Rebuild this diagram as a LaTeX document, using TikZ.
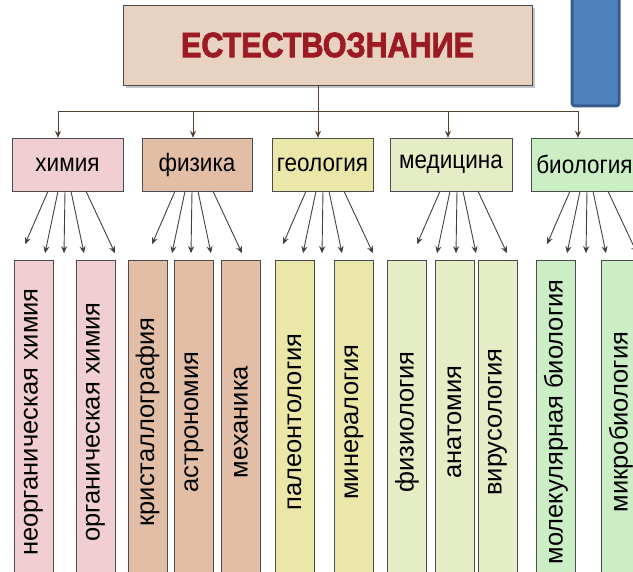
\documentclass[tikz,border=0pt]{standalone}
\usepackage{fontspec}
\setmainfont{Liberation Sans}
\newfontfamily\titlefont[FakeBold=2.5]{Liberation Sans}
\usetikzlibrary{arrows.meta,shadows}

\definecolor{maincol}{RGB}{232,210,194}
\definecolor{titlered}{RGB}{155,26,36}
\definecolor{khimcol}{RGB}{240,206,209}
\definecolor{fizcol}{RGB}{227,190,167}
\definecolor{geocol}{RGB}{234,231,168}
\definecolor{medcol}{RGB}{229,237,199}
\definecolor{biocol}{RGB}{203,238,197}
\definecolor{bluefill}{RGB}{79,129,189}
\definecolor{blueline}{RGB}{56,93,138}
\definecolor{buscol}{RGB}{85,65,50}

\begin{document}
\begin{tikzpicture}[
    x=1pt, y=-1pt,
    >=Stealth,
    title/.style={draw=black!70, fill=maincol, minimum width=409pt, minimum height=80pt,
        font=\fontsize{30.5}{36}\titlefont\bfseries, text=titlered,
        drop shadow={shadow xshift=3pt, shadow yshift=-3pt, fill=black!45}},
    cat/.style={draw=black!70, minimum height=53pt, inner sep=0pt,
        font=\fontsize{22.5}{26}\selectfont},
    leaf/.style={draw=black!70, rotate=90, minimum width=324pt, minimum height=39pt,
        inner sep=0pt, font=\fontsize{25.5}{30}\selectfont},
    bus/.style={buscol, line width=0.9pt},
    fan/.style={black!75, line width=0.9pt, -{Stealth[length=7pt, width=6pt]}}
]
\useasboundingbox (0,0) rectangle (633,572);
\clip (0,0) rectangle (633,572);

\node[draw=blueline, fill=bluefill, line width=3pt, rounded corners=3pt,
    minimum width=47pt, minimum height=116pt] (blue) at (595.5,48) {};

\node[title] (main) at (327.5,45) {\scalebox{1}[1.15]{ЕСТЕСТВОЗНАНИЕ}};

\node[cat, fill=khimcol, minimum width=111pt] (khim) at (67.5,164.5) {\scalebox{1}[1.12]{химия}};
\node[cat, fill=fizcol, minimum width=110pt] (fiz) at (197,164.5) {\scalebox{1}[1.12]{физика}};
\node[cat, fill=geocol, minimum width=101pt] (geo) at (322.5,164.5) {\scalebox{1}[1.12]{геология}};
\node[cat, fill=medcol, minimum width=122pt] (med) at (451,164.5) {\scalebox{1}[1.12]{медицина}};
\node[cat, fill=biocol, minimum width=107pt] (bio) at (584.5,164.5) {\scalebox{1}[1.12]{биология}};

\coordinate (a1) at (58,111);
\coordinate (a2) at (193,111);
\coordinate (bus) at (318,111);
\coordinate (a4) at (448,111);
\coordinate (a5) at (578,111);
\draw[bus] (main.south -| bus) -- (bus);
\draw[bus] (a1) -- (a5);
\foreach \p/\n in {a1/khim, a2/fiz, bus/geo, a4/med, a5/bio}
    \draw[bus, -{Stealth[length=7pt, width=6pt]}] (\p) -- (\p |- \n.north);

\node[leaf, fill=khimcol] (neorg) at (33.5,422) {неорганическая химия};
\node[leaf, fill=khimcol] (org) at (95.5,422) {органическая химия};
\node[leaf, fill=fizcol] (krist) at (147.5,422) {кристаллография};
\node[leaf, fill=fizcol] (astro) at (194,422) {астрономия};
\node[leaf, fill=fizcol] (mekh) at (241,422) {механика};
\node[leaf, fill=geocol] (paleo) at (294.5,422) {палеонтология};
\node[leaf, fill=geocol] (miner) at (354,422) {минералогия};
\node[leaf, fill=medcol] (fiziol) at (407,422) {физиология};
\node[leaf, fill=medcol] (anat) at (454.5,422) {анатомия};
\node[leaf, fill=medcol] (virus) at (497.5,422) {вирусология};
\node[leaf, fill=biocol] (molek) at (556,422) {молекулярная биология};
\node[leaf, fill=biocol] (mikro) at (621,422) {микробиология};

\foreach \n/\c in {khim/-2.5, fiz/-5, geo/0.5, med/6, bio/2.5}
    \foreach \s/\e/\d in {-17/-40/53, -7/-20/62, 0/-1/62, 6/19/62, 21/50/62}
        \draw[fan] ([xshift={(\c+\s)*1pt}]\n.south) -- ([xshift={(\c+\e)*1pt}, yshift=-\d pt]\n.south);
\end{tikzpicture}
\end{document}
